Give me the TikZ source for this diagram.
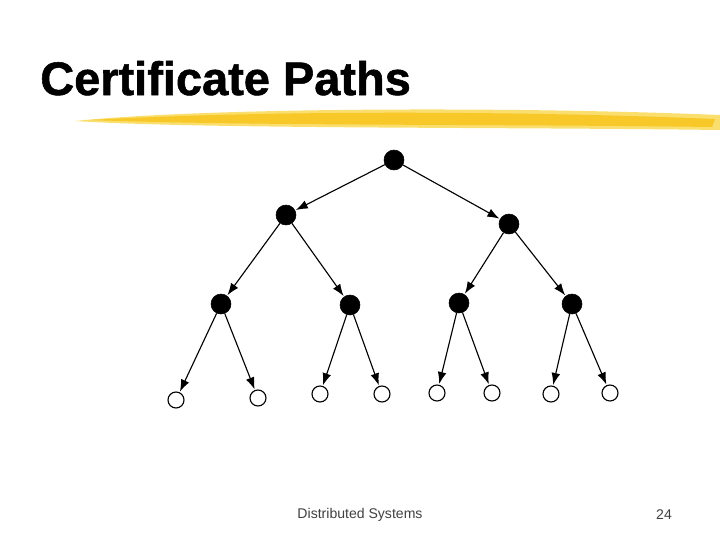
\documentclass[tikz,border=0pt]{standalone}
\usepackage{fontspec}
\setmainfont{Liberation Sans}
\newfontfamily\titlefont[FakeBold=1.2]{Liberation Sans Bold}
\usepackage{tikz}
\usetikzlibrary{arrows.meta}

\definecolor{brushgold}{RGB}{247,200,40}
\definecolor{brushlight}{RGB}{250,222,110}

\begin{document}
\begin{tikzpicture}[
				x=0.025cm, y=-0.025cm,
				innernode/.style={circle, draw=black, fill=black, minimum size=0.5cm, inner sep=0pt},
				leafnode/.style={circle, draw=black, thick, fill=white, minimum size=0.4cm, inner sep=0pt},
				certarrow/.style={-{Latex[length=3mm, width=2.2mm]}, thick, shorten >=0.5pt},
				]
				\useasboundingbox (0,0) rectangle (720,540);
				
				%Title and brush stroke
				\node[anchor=base west, inner sep=0pt, font=\titlefont\fontsize{33.4}{37}\selectfont](title) at (40,95){Certificate Paths};
				\fill[brushlight] (75,121) .. controls (200,108) and (500,106) .. (720,115) -- (720,130) .. controls (500,127) and (200,129) .. (75,121) -- cycle;
				\fill[brushgold] (90,120) .. controls (250,111) and (500,110) .. (715,119) -- (712,127) .. controls (500,124) and (250,126) .. (90,120) -- cycle;
				
				%Nodes
				\node[innernode](root) at (394,160){};
				\node[innernode](a) at (286,215){};
				\node[innernode](b) at (509,224){};
				\node[innernode](aa) at (221,304){};
				\node[innernode](ab) at (350,305){};
				\node[innernode](ba) at (459,303){};
				\node[innernode](bb) at (572,304){};
				\node[leafnode](l1) at (176,400){};
				\node[leafnode](l2) at (258,398){};
				\node[leafnode](l3) at (320,394){};
				\node[leafnode](l4) at (382,394){};
				\node[leafnode](l5) at (437,393){};
				\node[leafnode](l6) at (492,393){};
				\node[leafnode](l7) at (551,394){};
				\node[leafnode](l8) at (610,393){};
				
				%Lines
				\draw[certarrow] (root) -- (a);
				\draw[certarrow] (root) -- (b);
				\draw[certarrow] (a) -- (aa);
				\draw[certarrow] (a) -- (ab);
				\draw[certarrow] (b) -- (ba);
				\draw[certarrow] (b) -- (bb);
				\draw[certarrow] (aa) -- (l1);
				\draw[certarrow] (aa) -- (l2);
				\draw[certarrow] (ab) -- (l3);
				\draw[certarrow] (ab) -- (l4);
				\draw[certarrow] (ba) -- (l5);
				\draw[certarrow] (ba) -- (l6);
				\draw[certarrow] (bb) -- (l7);
				\draw[certarrow] (bb) -- (l8);
				
				%Footer
				\node[font=\fontsize{10}{12}\selectfont, text=black!75](footer) at (360,515){Distributed Systems};
				\node[font=\fontsize{10}{12}\selectfont, text=black!75](pagenum) at (664,515){24};
			\end{tikzpicture}
\end{document}
